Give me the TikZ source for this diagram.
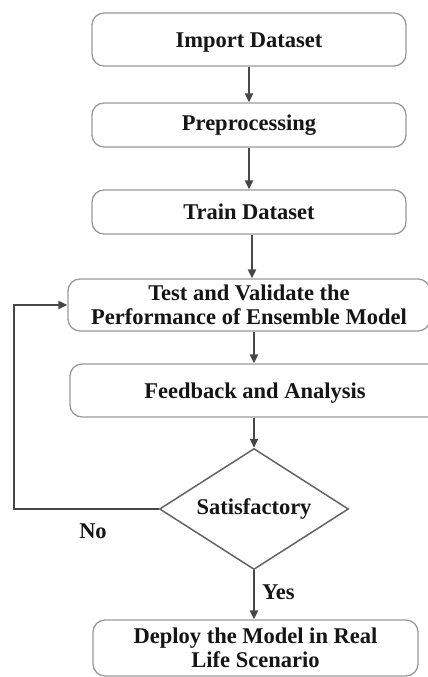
\documentclass[tikz,border=0pt]{standalone}
\usepackage{fontspec}
\setmainfont{Liberation Serif}
\usetikzlibrary{arrows.meta,shapes.geometric}
\definecolor{boxline}{HTML}{9A9A9A}
\definecolor{arrowline}{HTML}{474747}
\definecolor{txt}{HTML}{151515}
% lower a label inside its box without changing the box size
\newcommand{\lowered}[2]{\raisebox{-#1}[\height][\depth]{#2}}
\tikzset{
  stepbox/.style={draw=boxline, line width=1.3pt, rounded corners=12pt,
    align=center, inner sep=0pt, text=txt,
    font=\fontsize{22.5}{24.5}\selectfont\bfseries},
  decision/.style={diamond, draw=arrowline!85, line width=1.5pt, inner sep=0pt,
    minimum width=189pt, minimum height=121pt, aspect=1.56, text=txt,
    font=\fontsize{22.5}{24.5}\selectfont\bfseries},
  flow/.style={draw=arrowline, line width=2pt,
    -{Triangle[length=9pt,width=8pt]}},
  tag/.style={text=txt, inner sep=0pt,
    font=\fontsize{22.5}{24.5}\selectfont\bfseries}
}
\begin{document}
\begin{tikzpicture}[x=1pt,y=-1pt]
\useasboundingbox (0,0) rectangle (428,677);
\clip (0,0) rectangle (428,677);

% process steps
\node[stepbox, minimum width=314pt, minimum height=53pt] (imp) at (249,39.5) {\lowered{3.5pt}{Import Dataset}};
\node[stepbox, minimum width=314pt, minimum height=44pt] (pre) at (249,125) {Preprocessing};
\node[stepbox, minimum width=314pt, minimum height=44pt] (trn) at (249,212) {Train Dataset};
\node[stepbox, minimum width=362pt, minimum height=52pt] (tst) at (249,305) {Test and Validate the\\Performance of Ensemble Model};
\node[stepbox, minimum width=370pt, minimum height=53pt] (fba) at (255,390.5) {\lowered{3pt}{Feedback and Analysis}};
\node[decision] (sat) at (254,509) {Satisfactory};
\node[stepbox, minimum width=325pt, minimum height=56pt] (dep) at (255.5,648) {Deploy the Model in Real\\Life Scenario};

% connectors
\draw[flow] (imp.south -| 249,0) -- (pre.north -| 249,0);
\draw[flow] (pre.south -| 249,0) -- (trn.north -| 249,0);
\draw[flow] (trn.south -| 252,0) -- (tst.north -| 252,0);
\draw[flow] (tst.south -| 254,0) -- (fba.north -| 254,0);
\draw[flow] (fba.south -| 254,0) -- (sat.north);
\draw[flow] (sat.south) -- (dep.north -| sat.south);

% feedback loop for an unsatisfactory result
\coordinate (loop) at (14,509);
\draw[flow, rounded corners=0pt] (sat.west) -- (loop) |- (tst.west);

% branch labels
\node[tag] (no) at (93,531) {No};
\node[tag, anchor=west] (yes) at (262,592) {Yes};
\end{tikzpicture}
\end{document}
